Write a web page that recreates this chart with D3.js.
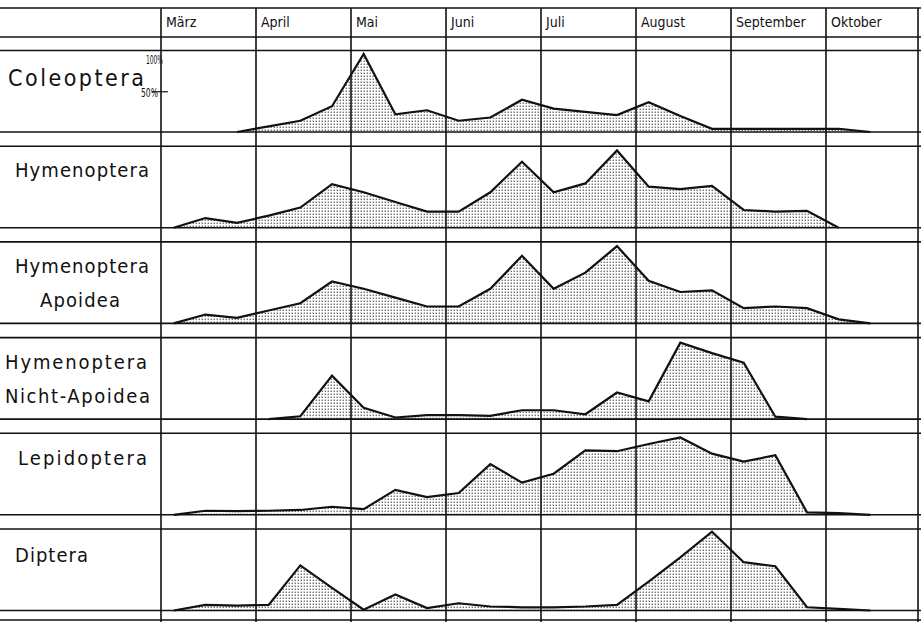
<!DOCTYPE html>
<html>
<head>
<meta charset="utf-8">
<script src="https://cdn.jsdelivr.net/npm/d3@7"></script>
<style>
  html, body { margin: 0; padding: 0; background: #fff; }
  svg { display: block; }
  text { font-family: "DejaVu Sans Condensed", "DejaVu Sans", sans-serif; fill: #111; }
</style>
</head>
<body>
<svg id="chart" width="921" height="622"></svg>
<script>
// Months (each split into 3 decades, points placed per decade)
const months = ["März", "April", "Mai", "Juni", "Juli", "August", "September", "Oktober"];

// Panel labels (one or two lines)
const panelLabels = [
  ["Coleoptera"],
  ["Hymenoptera"],
  ["Hymenoptera", "Apoidea"],
  ["Hymenoptera", "Nicht-Apoidea"],
  ["Lepidoptera"],
  ["Diptera"]
];

// Percentage series per decade index (0 = März I ... 23 = Oktober III)
const coleopteraStart = 2;
const coleoptera = [0, 7, 14, 32, 97, 22, 27, 14, 18, 40, 29, 25, 21, 37, 20, 4, 4, 4, 4, 4, 0];

const hymenopteraStart = 0;
const hymenoptera = [0, 12, 6, 15, 25, 54, 44, 32, 20, 20, 44, 82, 44, 55, 96, 51, 48, 52, 22, 20, 21, 0];

const apoideaStart = 0;
const apoidea = [0, 11, 7, 16, 25, 52, 43, 32, 21, 21, 43, 84, 43, 63, 96, 53, 39, 41, 19, 21, 19, 5, 0];

const nichtApoideaStart = 3;
const nichtApoidea = [0, 3.5, 54, 14, 2, 5, 5, 4, 11, 11, 6, 33, 22, 95, 82, 70, 3, 0];

const lepidopteraStart = 0;
const lepidoptera = [0, 5, 4.5, 5, 6, 10, 7, 31, 22, 27, 63, 40, 51, 80, 79, 88, 96, 76, 66, 74, 3, 2, 0];

const dipteraStart = 0;
const diptera = [0, 7, 6, 7, 56, 28, 1, 20, 3, 9, 5, 4, 4, 5, 7, 36, 66, 98, 60, 55, 4, 2, 0];

const seriesList = [
  { start: coleopteraStart, values: coleoptera },
  { start: hymenopteraStart, values: hymenoptera },
  { start: apoideaStart, values: apoidea },
  { start: nichtApoideaStart, values: nichtApoidea },
  { start: lepidopteraStart, values: lepidoptera },
  { start: dipteraStart, values: diptera }
];

// Axis annotation on the first panel
const pctTicks = ["100%", "50%"];

// ---------- layout ----------
const W = 921, H = 622;
const svg = d3.select("#chart");

const x = d3.scaleLinear().domain([0, 24]).range([161, 921]);
const pointOffset = 0.4;

const topLine = 8, headerBottom = 37, bottomLine = 620;
const panelTop0 = 50.5, panelPitch = 95.7, panelH = 81.5;

const defs = svg.append("defs");
const pat = defs.append("pattern")
  .attr("id", "dots").attr("patternUnits", "userSpaceOnUse")
  .attr("width", 3).attr("height", 3);
pat.append("rect").attr("width", 3).attr("height", 3).attr("fill", "#fff");
pat.append("rect").attr("x", 0.6).attr("y", 0.6).attr("width", 1.3).attr("height", 1.3).attr("fill", "#555");

const gridColor = "#111";
const gridW = 1.6;

// Panels: areas first, then grid on top
seriesList.forEach((s, k) => {
  const top = panelTop0 + panelPitch * k;
  const bottom = top + panelH;
  const y = d3.scaleLinear().domain([0, 100]).range([bottom, top + 1]);
  const pts = s.values.map((v, j) => ({ i: s.start + j, v }));
  const area = d3.area()
    .x(d => x(d.i + pointOffset)).y0(bottom).y1(d => y(d.v));
  const line = d3.line()
    .x(d => x(d.i + pointOffset)).y(d => y(d.v));
  const g = svg.append("g");
  g.append("path").datum(pts).attr("d", area).attr("fill", "url(#dots)").attr("stroke", "none");
  g.append("path").datum(pts).attr("d", line)
    .attr("fill", "none").attr("stroke", "#111").attr("stroke-width", 2.2)
    .attr("stroke-linejoin", "miter");

  // panel boundary lines
  [top, bottom].forEach(yy => {
    svg.append("line").attr("x1", 0).attr("x2", W).attr("y1", yy).attr("y2", yy)
      .attr("stroke", gridColor).attr("stroke-width", gridW);
  });

  // labels
  const lab = panelLabels[k];
  const cfgs = [
    [{ x: 8, y: 86, len: 136, fs: 23 }],
    [{ x: 15, y: 177, len: 134, fs: 20 }],
    [{ x: 15, y: 273, len: 134, fs: 20 }, { x: 40, y: 307, len: 80, fs: 20 }],
    [{ x: 5, y: 369, len: 142, fs: 20 }, { x: 5, y: 403, len: 145, fs: 20 }],
    [{ x: 18, y: 465, len: 129, fs: 20 }],
    [{ x: 15, y: 562, len: 73, fs: 20 }]
  ][k];
  lab.forEach((t, m) => {
    svg.append("text").attr("x", cfgs[m].x).attr("y", cfgs[m].y)
      .attr("font-size", cfgs[m].fs).attr("textLength", cfgs[m].len).attr("lengthAdjust", "spacing")
      .text(t);
  });

  if (k === 0) {
    svg.append("text").attr("x", 163).attr("y", y(100) + 12).attr("text-anchor", "end")
      .attr("font-size", 12).attr("textLength", 17).attr("lengthAdjust", "spacingAndGlyphs").text(pctTicks[0]);
    svg.append("text").attr("x", 158).attr("y", y(50) + 5).attr("text-anchor", "end")
      .attr("font-size", 12).attr("textLength", 17).attr("lengthAdjust", "spacingAndGlyphs").text(pctTicks[1]);
    svg.append("line").attr("x1", 152).attr("x2", 168).attr("y1", y(50)).attr("y2", y(50))
      .attr("stroke", gridColor).attr("stroke-width", 1.2);
  }
});

// header lines
[topLine, headerBottom, bottomLine].forEach(yy => {
  svg.append("line").attr("x1", 0).attr("x2", W).attr("y1", yy).attr("y2", yy)
    .attr("stroke", gridColor).attr("stroke-width", gridW);
});

// vertical month boundaries
const monthTicks = d3.range(0, 25, 3);
svg.selectAll("line.vgrid").data(monthTicks).enter().append("line")
  .attr("class", "vgrid")
  .attr("x1", d => x(d) - (d === 24 ? 3 : 0)).attr("x2", d => x(d) - (d === 24 ? 3 : 0))
  .attr("y1", topLine).attr("y2", H)
  .attr("stroke", gridColor).attr("stroke-width", gridW);

// month labels
svg.selectAll("text.month").data(months).enter().append("text")
  .attr("class", "month")
  .attr("x", (d, i) => x(i * 3) + 5)
  .attr("y", 27)
  .attr("font-size", 14)
  .text(d => d);
</script>
</body>
</html>
